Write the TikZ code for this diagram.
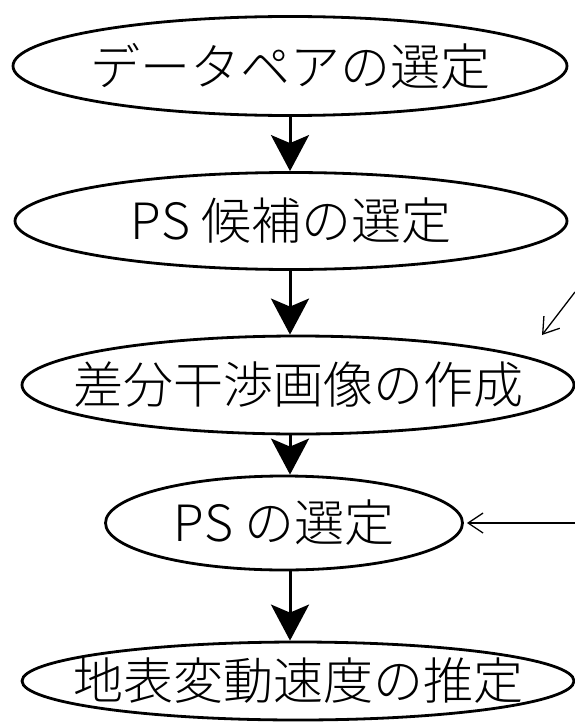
\documentclass[tikz,border=0pt]{standalone}
\usepackage{fontspec}
\IfFontExistsTF{Noto Sans CJK JP Light}
  {\newfontfamily\jp{Noto Sans CJK JP Light}}
  {\newfontfamily\jp{Noto Sans CJK JP}}
\usetikzlibrary{shapes.geometric,arrows.meta}
\newcommand\flatlabel[1]{\makebox[0pt]{#1}}
\begin{document}
\begin{tikzpicture}[x=1pt,y=-1pt,
  stage/.style={ellipse, draw, line width=2.8pt, inner sep=0pt,
    font=\jp\fontsize{50}{60}\selectfont},
  flow/.style={line width=3pt, -{Stealth[length=36pt,width=38pt,inset=8pt]}},
  note/.style={line width=1.3pt, -{Straight Barb[length=15pt,width=20pt]}}]
\useasboundingbox (0,0) rectangle (575,725);
\node[stage, minimum width=554pt, minimum height=99pt] (e1) at (290,66) {\flatlabel{データペアの選定}};
\node[stage, minimum width=552pt, minimum height=97pt] (e2) at (291,221) {\flatlabel{PS 候補の選定}};
\node[stage, minimum width=552pt, minimum height=98pt] (e3) at (298,385) {\flatlabel{差分干渉画像の作成}};
\node[stage, minimum width=357pt, minimum height=94pt] (e4) at (284,523) {\flatlabel{PS の選定}};
\node[stage, minimum width=552pt, minimum height=78pt] (e5) at (298,681) {\flatlabel{地表変動速度の推定}};
\coordinate (ax) at (290,0);
\draw[flow] (e1.south -| ax) -- (e2.north -| ax);
\draw[flow] (e2.south -| ax) -- (e3.north -| ax);
\draw[flow] (e3.south -| ax) -- (e4.north -| ax);
\draw[flow] (e4.south -| ax) -- (e5.north -| ax);
\coordinate (n1s) at (575,292);
\coordinate (n1e) at (542,335);
\draw[note] (n1s) -- (n1e);
\coordinate (n2s) at (575,523);
\draw[note] (n2s) -- ([xshift=3pt]e4.east);
\end{tikzpicture}
\end{document}
